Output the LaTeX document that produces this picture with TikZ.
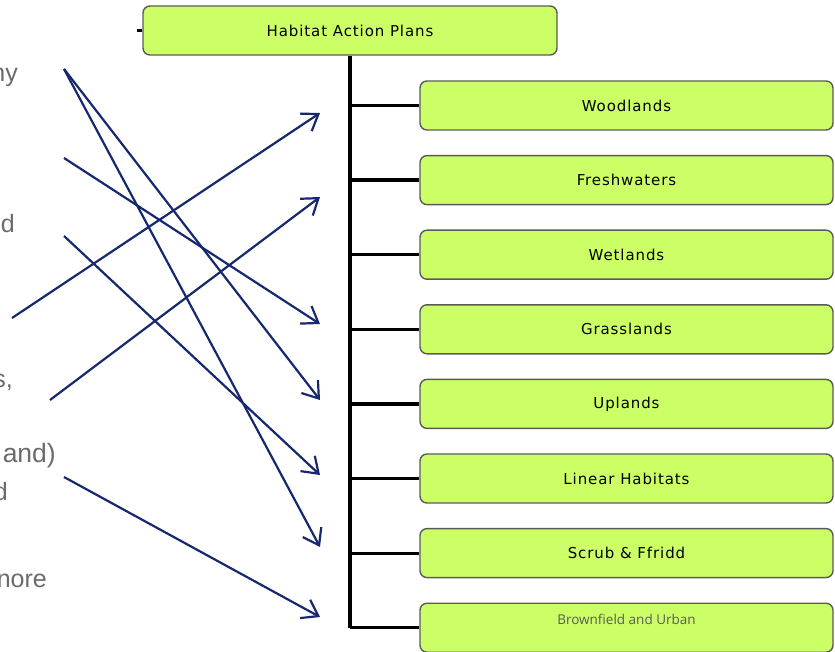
\documentclass[tikz,border=0pt]{standalone}
\usepackage{fontspec}
\setmainfont{Liberation Sans}
\newfontfamily\boxfont[LetterSpace=6]{DejaVu Sans}
\newfontfamily\bffont{Open Sans}
\usetikzlibrary{arrows.meta}

\definecolor{habgreen}{HTML}{CCFF66}
\definecolor{habedge}{HTML}{5A5A5A}
\definecolor{mapnavy}{HTML}{16286E}
\definecolor{cuttext}{HTML}{6B6B6B}

\tikzset{
  habbox/.style={draw=habedge, line width=1.4pt, fill=habgreen, rounded corners=7pt,
    minimum width=413pt, minimum height=49pt, inner sep=0pt,
    font=\boxfont\fontsize{15}{18}\selectfont},
  habtrunk/.style={line width=3.6pt, black},
  habbranch/.style={line width=3.2pt, black},
  maparrow/.style={line width=2.2pt, mapnavy,
    -{Straight Barb[length=15pt, width=21pt, line width=2.2pt]}},
  cutlabel/.style={anchor=base east, inner sep=0pt, text=cuttext,
    font=\fontsize{25}{30}\selectfont}
}

\begin{document}
\begin{tikzpicture}[x=1pt, y=-1pt]
\useasboundingbox (0,0) rectangle (835,652);

% cut-off text on the left
\node[cutlabel] (cut1) at (18,82)  {ny};
\node[cutlabel] (cut2) at (15,233) {d};
\node[cutlabel] (cut3) at (13,387) {s,};
\node[cutlabel, font=\fontsize{26.5}{30}\selectfont] (cut4) at (56,462) {and)};
\node[cutlabel] (cut5) at (8,500)  {d};
\node[cutlabel] (cut6) at (47,587) {nore};

% top box
\node[habbox, minimum width=414pt] (hap) at (350,30.5) {Habitat Action Plans};
\draw[habbranch] (hap.west) -- ++(-5,0);

% trunk
\coordinate (trunkend) at (350,628);
\draw[habtrunk] (hap.south) -- (trunkend);

% habitat boxes
\foreach \i/\txt in {1/Woodlands, 2/Freshwaters, 3/Wetlands, 4/Grasslands,
    5/Uplands, 6/Linear Habitats, 7/Scrub \& Ffridd} {
  \node[habbox] (hab\i) at (626.5,{105.5+74.6*(\i-1)}) {\txt};
  \coordinate (fork\i) at (350,{105.5+74.6*(\i-1)});
  \draw[habbranch] (fork\i) -- (hab\i.west);
}
\node[habbox, label={[yshift=8.5pt, text=habedge, font=\bffont\fontsize{13.5}{16}\selectfont]center:Brownfield and Urban}]
  (hab8) at (626.5,627.7) {};
\coordinate (fork8) at (350,627.7);
\draw[habbranch] (fork8) -- (hab8.west);

% mapping arrows
\coordinate (from1) at (64,69);
\coordinate (from2) at (64,158);
\coordinate (from3) at (64,236);
\coordinate (from4) at (12,318);
\coordinate (from5) at (50,400);
\coordinate (from6) at (64,477);
\coordinate (to1) at (320,113);
\coordinate (to2) at (320,197);
\coordinate (to4) at (320,324);
\coordinate (to5) at (320,400);
\coordinate (to6) at (320,475);
\coordinate (to7) at (320,547);
\coordinate (to8) at (320,617);
\foreach \s/\t in {1/5, 1/7, 2/4, 3/6, 4/1, 5/2, 6/8} {
  \draw[maparrow] (from\s) -- (to\t);
}

\end{tikzpicture}
\end{document}
